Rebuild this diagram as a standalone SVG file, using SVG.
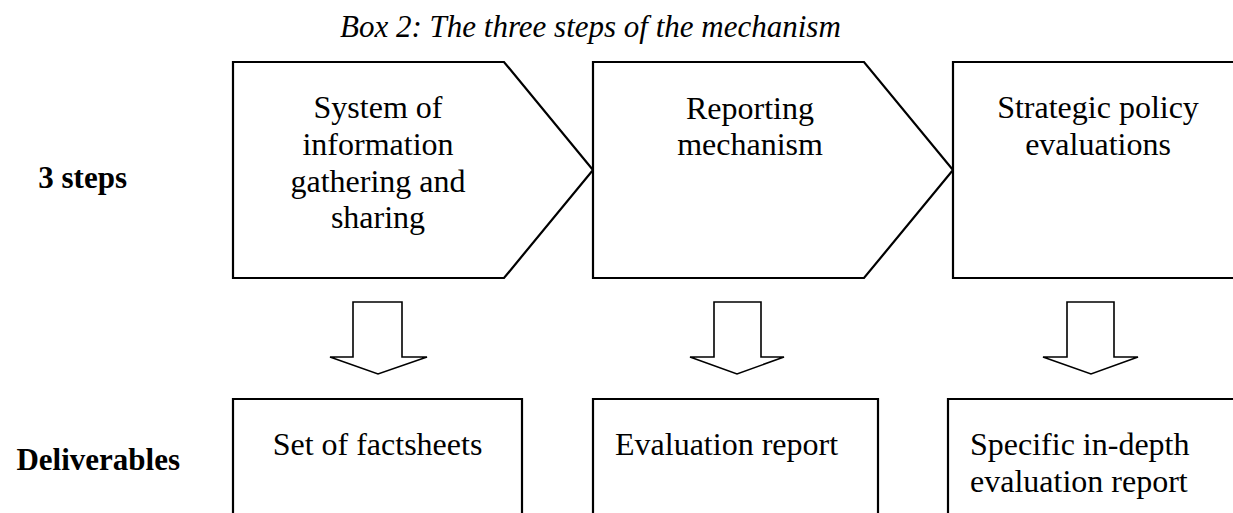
<svg xmlns="http://www.w3.org/2000/svg" width="1233" height="513" viewBox="0 0 1233 513">
<style>
.t{font-family:"Liberation Serif","Times New Roman",serif;font-size:32px;fill:#000}
.c{text-anchor:middle}
.e{text-anchor:end}
.b{font-weight:bold;font-size:31px}
.i{font-style:italic;font-size:31px}
.box{fill:#fff;stroke:#000;stroke-width:2.2}
.arr{fill:#fff;stroke:#000;stroke-width:1.6;stroke-linejoin:miter}
</style>
<rect width="1233" height="513" fill="#fff"/>
<text class="t i" x="340" y="37">Box 2: The three steps of the mechanism</text>
<text class="t b e" x="127" y="188">3 steps</text>
<text class="t b e" x="180" y="470">Deliverables</text>
<g id="step1">
<path class="box" d="M233,62 H504 L593,170 L504,278 H233 Z"/>
<text class="t c" x="378"><tspan x="378" y="118">System of</tspan><tspan x="378" y="155">information</tspan><tspan x="378" y="191.5">gathering and</tspan><tspan x="378" y="228">sharing</tspan></text>
</g>
<g id="step2">
<path class="box" d="M593,62 H864 L953,170 L864,278 H593 Z"/>
<text class="t c"><tspan x="750" y="119">Reporting</tspan><tspan x="750" y="155">mechanism</tspan></text>
</g>
<g id="step3">
<path class="box" d="M1240,62 H953 V278 H1240"/>
<text class="t c"><tspan x="1098" y="118">Strategic policy</tspan><tspan x="1098" y="155">evaluations</tspan></text>
</g>
<g id="connectors">
<path class="arr" d="M353,302 H402 V357 H427 L378,374 L330,357 H353 Z"/>
<path class="arr" d="M714,302 H761 V357 H784 L737,374 L690,357 H714 Z"/>
<path class="arr" d="M1067,302 H1114 V357 H1138 L1091,374 L1043,357 H1067 Z"/>
</g>
<g id="deliv1">
<path class="box" d="M233,520 V399 H522 V520"/>
<text class="t c" x="377.5" y="455">Set of factsheets</text>
</g>
<g id="deliv2">
<path class="box" d="M593,520 V399 H878 V520"/>
<text class="t" x="615" y="455">Evaluation report</text>
</g>
<g id="deliv3">
<path class="box" d="M948,520 V399 H1240"/>
<text class="t"><tspan x="970" y="455">Specific in-depth</tspan><tspan x="970" y="492">evaluation report</tspan></text>
</g>
</svg>
